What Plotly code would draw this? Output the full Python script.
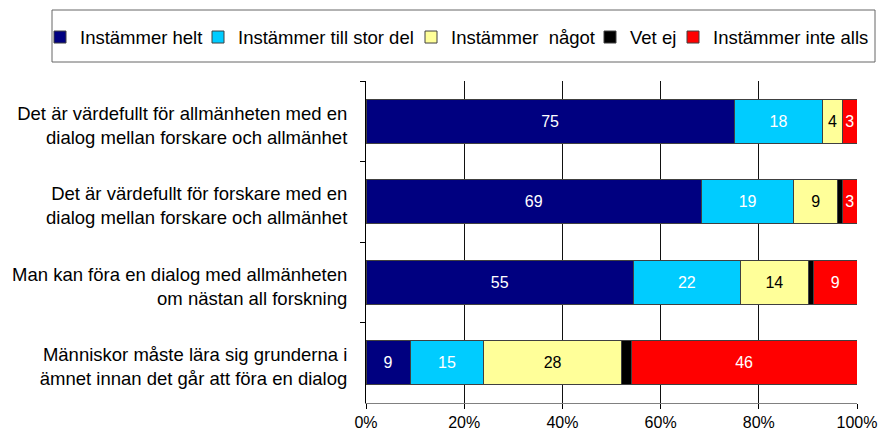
import plotly.graph_objects as go

categories = [
    "Det är värdefullt för allmänheten med en<br>dialog mellan forskare och allmänhet",
    "Det är värdefullt för forskare med en<br>dialog mellan forskare och allmänhet",
    "Man kan föra en dialog med allmänheten<br>om nästan all forskning",
    "Människor måste lära sig grunderna i<br>ämnet innan det går att föra en dialog",
]
series_names = ["Instämmer helt", "Instämmer till stor del", "Instämmer\u00a0 något",
                "Vet ej", "Instämmer inte alls"]
helt = [75, 69, 55, 9]
stor_del = [18, 19, 22, 15]
nagot = [4, 9, 14, 28]
vet_ej = [0, 1, 1, 2]
inte_alls = [3, 3, 9, 46]
tick_vals = [0, 20, 40, 60, 80, 100]
tick_text = ["0%", "20%", "40%", "60%", "80%", "100%"]

series = [helt, stor_del, nagot, vet_ej, inte_alls]
colors = ["#000080", "#00CCFF", "#FFFF99", "#000000", "#FF0000"]
text_colors = ["white", "white", "black", "white", "white"]
show_text = [True, True, True, False, True]

FONT = "Liberation Sans, Arial, sans-serif"

# plot area in pixels: x 366..857, y 81..403
L, R, T, B = 366, 857, 81, 403
PW, PH = R - L, B - T
# left edge (px) of each single-entry legend, so entries sit like the reference
legend_left_px = [40, 198, 411, 590, 673]
legend_ids = ["legend", "legend2", "legend3", "legend4", "legend5"]

fig = go.Figure()
for name, vals, col, tcol, st, lid in zip(series_names, series, colors,
                                          text_colors, show_text, legend_ids):
    fig.add_trace(go.Bar(
        y=categories, x=vals, name=name, orientation="h", legend=lid,
        marker=dict(color=col, line=dict(color="#404040", width=1)),
        text=[str(v) for v in vals] if st else None,
        textposition="inside" if st else "none",
        insidetextanchor="middle", textangle=0,
        textfont=dict(color=tcol, size=16, family=FONT),
        hoverinfo="skip",
    ))

legends = {}
for lid, lx in zip(legend_ids, legend_left_px):
    legends[lid] = dict(
        orientation="h", xref="paper", yref="paper",
        x=(lx - L) / PW, xanchor="left", y=(B - 37.5) / PH, yanchor="middle",
        font=dict(size=18.5, family=FONT, color="black"), itemwidth=30,
        bgcolor="rgba(0,0,0,0)", borderwidth=0,
    )

fig.update_layout(
    width=881, height=434,
    barmode="stack", barnorm="percent", bargap=0.45,
    margin=dict(l=L, r=881 - R, t=T, b=434 - B, autoexpand=False),
    plot_bgcolor="white", paper_bgcolor="white",
    font=dict(family=FONT, size=16, color="black"),
    uniformtext=dict(minsize=16, mode="show"),
    showlegend=True,
    xaxis=dict(
        range=[0, 100], tickvals=tick_vals, ticktext=tick_text,
        showgrid=True, gridcolor="#111111", gridwidth=1,
        showline=True, linecolor="#808080", linewidth=1,
        ticks="outside", ticklen=5, tickcolor="#000000",
        zeroline=False, tickfont=dict(size=16),
    ),
    yaxis=dict(
        autorange="reversed", showline=True, linecolor="#000000", linewidth=1,
        mirror=False, ticks="outside", ticklen=5, tickcolor="#000000",
        tickson="boundaries", showgrid=False, ticklabelstandoff=14,
        ticklabelshift=-4,
        tickfont=dict(size=18.5),
    ),
    shapes=[dict(
        type="rect", xref="paper", yref="paper",
        x0=(52 - L) / PW, x1=(875 - L) / PW,
        y0=(B - 62) / PH, y1=(B - 10) / PH,
        line=dict(color="#666666", width=1), fillcolor="rgba(0,0,0,0)",
        layer="above",
    )],
    **legends,
)

fig.write_html("out.html", config={"displayModeBar": False},
               post_script="document.body.style.margin='0px';")
